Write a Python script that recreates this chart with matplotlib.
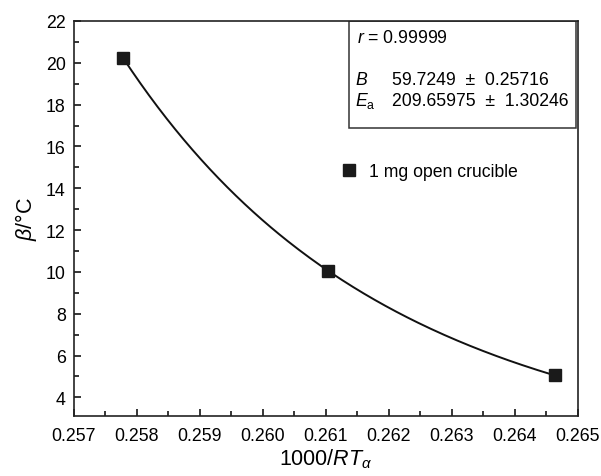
import matplotlib
matplotlib.use("Agg")
import matplotlib.pyplot as plt
import numpy as np
from matplotlib.patches import Rectangle
from matplotlib.ticker import MultipleLocator, FormatStrFormatter

plt.rcParams["font.family"] = ["Liberation Sans", "DejaVu Sans"]
plt.rcParams["mathtext.fontset"] = "custom"
plt.rcParams["mathtext.rm"] = "Liberation Sans"
plt.rcParams["mathtext.it"] = "Liberation Sans:italic"

# data
inv_rt = [0.25778, 0.26103, 0.26463]
beta = [20.23, 10.06, 5.05]
series_label = "1 mg open crucible"
fit_r = "0.99999"
fit_b = "59.7249  \u00b1  0.25716"
fit_ea = "209.65975  \u00b1  1.30246"

fig = plt.figure(figsize=(6.01, 4.77), dpi=100)
ax = fig.add_axes([0.1231, 0.1268, 0.8386, 0.8271])

# smooth fitted curve through the measured points
coef = np.polyfit(inv_rt, np.log(beta), 2)
xs = np.linspace(min(inv_rt), max(inv_rt), 200)
ax.plot(xs, np.exp(np.polyval(coef, xs)), color="#111111", lw=1.4)
ax.plot(inv_rt, beta, ls="none", marker="s", ms=8.5, color="#1a1a1a", label=series_label)

ax.set_xlim(0.257, 0.265)
ax.set_ylim(3.13, 22)
ax.xaxis.set_major_locator(MultipleLocator(0.001))
ax.xaxis.set_minor_locator(MultipleLocator(0.0005))
ax.xaxis.set_major_formatter(FormatStrFormatter("%.3f"))
ax.yaxis.set_major_locator(MultipleLocator(2))
ax.yaxis.set_minor_locator(MultipleLocator(1))
ax.tick_params(which="both", direction="in", top=False, right=False, labelsize=12.8)
ax.tick_params(axis="x", pad=8)
ax.tick_params(axis="y", pad=6)
ax.tick_params(which="major", length=5, width=1.1)
ax.tick_params(which="minor", length=3.5, width=1.1)
for sp in ax.spines.values():
    sp.set_linewidth(1.2)
    sp.set_color("#222222")

ax.set_xlabel(r"1000/$RT_\alpha$", fontsize=15.5, labelpad=2)
ax.set_ylabel(r"$\beta$/°C", fontsize=15.5, labelpad=5)

ax.legend(loc="center left", bbox_to_anchor=(0.528, 0.618), frameon=False, numpoints=1,
          handlelength=1.0, handletextpad=0.65, borderpad=0, borderaxespad=0, fontsize=12.7)

ax.add_patch(Rectangle((0.5456, 0.7288), 0.4504, 0.2712, transform=ax.transAxes,
                       fill=False, lw=1.1, ec="#333333"))
ax.text(0.5615, 0.959, r"$r$ = " + fit_r, transform=ax.transAxes, fontsize=12.7, va="center")
ax.text(0.5575, 0.851, r"$B$", transform=ax.transAxes, fontsize=12.7, va="center")
ax.text(0.631, 0.851, fit_b, transform=ax.transAxes, fontsize=12.7, va="center")
ax.text(0.5575, 0.799, r"$E_{\mathrm{a}}$", transform=ax.transAxes, fontsize=12.7, va="center")
ax.text(0.631, 0.799, fit_ea, transform=ax.transAxes, fontsize=12.7, va="center")

fig.savefig("out.png", dpi=100)
